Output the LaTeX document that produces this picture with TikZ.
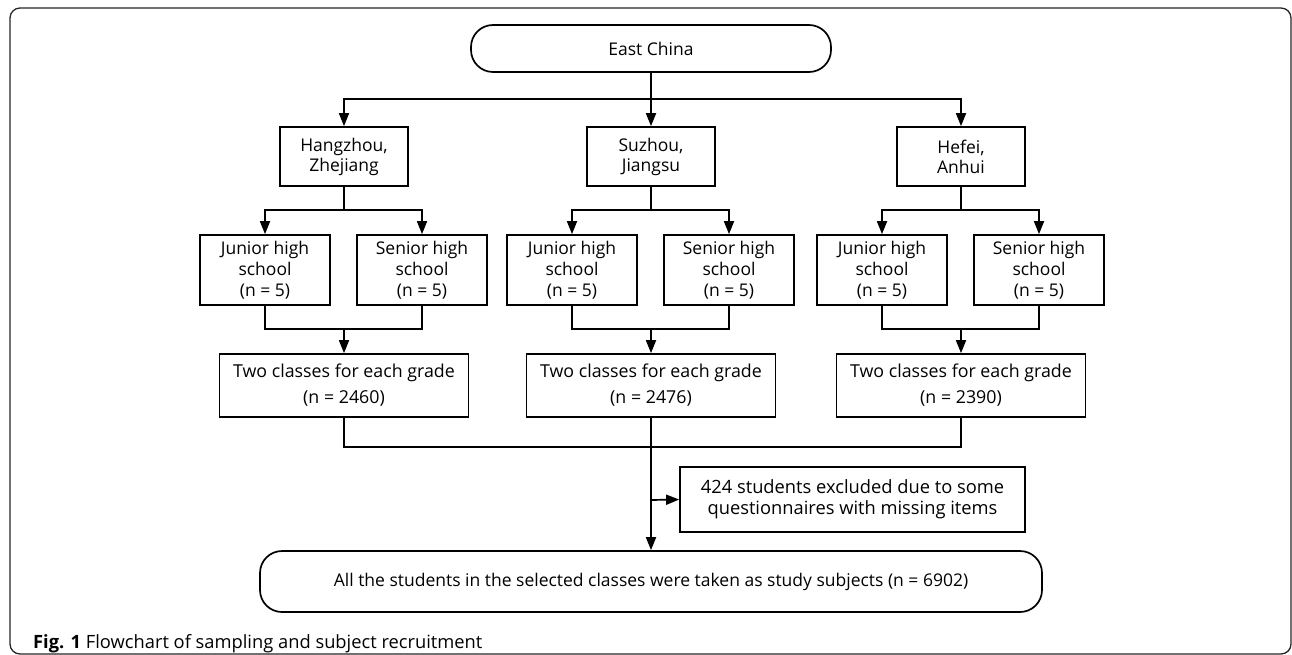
\documentclass[tikz,border=0pt]{standalone}
\usepackage{fontspec}
\setmainfont{Open Sans}
\usetikzlibrary{arrows.meta,positioning}

\begin{document}
\begin{tikzpicture}[x=1pt,y=-1pt,
  box/.style={draw, line width=1.7pt, align=center, inner sep=0pt,
    font=\fontsize{17.5}{21}\selectfont},
  citybox/.style={box, minimum width=128pt, minimum height=59pt,
    font=\fontsize{17.5}{20}\selectfont},
  schoolbox/.style={box, minimum width=130pt, minimum height=70pt},
  classbox/.style={box, minimum width=249pt, minimum height=63pt,
    font=\fontsize{17.8}{26}\selectfont},
  endbox/.style={box, rounded corners=22pt},
  arr/.style={line width=1.7pt, -{Triangle[length=13pt,width=10pt]}},
  link/.style={line width=1.7pt}
]
  % Page and frame
  \useasboundingbox (0,0) rectangle (1292,655);
  \draw[line width=1.3pt, rounded corners=10pt, black!85] (10,8) rectangle (1291,654);

  % Top
  \node[endbox, minimum width=360pt, minimum height=47pt] (east) at (651,48.5) {East China};
  \coordinate (eastfork) at (651,99);
  \draw[link] (east) -- (eastfork);

  % Three cities
  \foreach \cx/\tag/\city/\num in {344/hz/{Hangzhou,\\Zhejiang}/2460,
                                    651/sz/{Suzhou,\\Jiangsu}/2476,
                                    961/hf/{Hefei,\\Anhui}/2390} {
    \node[citybox] (city-\tag) at (\cx,156.5) {\city};
    \draw[arr] (eastfork) -| (city-\tag.north);

    \node[schoolbox] (jun-\tag) at (\cx-79,270) {Junior high\\school\\(n = 5)};
    \node[schoolbox] (sen-\tag) at (\cx+78,270) {Senior high\\school\\(n = 5)};
    \coordinate (split-\tag) at (\cx,210);
    \draw[link] (city-\tag) -- (split-\tag);
    \draw[arr] (split-\tag) -| (jun-\tag.north);
    \draw[arr] (split-\tag) -| (sen-\tag.north);

    \node[classbox] (cls-\tag) at (\cx,385.5) {Two classes for each grade\\(n = \num)};
    \coordinate (merge-\tag) at (\cx,329);
    \draw[link] (jun-\tag.south) |- (merge-\tag);
    \draw[link] (sen-\tag.south) |- (merge-\tag);
    \draw[arr] (merge-\tag) -- (cls-\tag);
  }

  % Bottom
  \coordinate (join) at (651,447);
  \draw[link] (cls-hz.south) |- (join);
  \draw[link] (cls-hf.south) |- (join);

  \node[box, minimum width=345pt, minimum height=65pt,
    font=\fontsize{18.3}{21}\selectfont] (excl) at (852.5,499.5)
    {424 students excluded due to some\\questionnaires with missing items};
  \node[endbox, minimum width=782pt, minimum height=61pt] (final) at (651,581.5)
    {All the students in the selected classes were taken as study subjects (n = 6902)};
  \coordinate (exfork) at (651,500);
  \draw[arr] (cls-sz) -- (final);
  \draw[arr] (exfork) -- (excl.west);

  % Caption
  \node[anchor=base west, inner sep=0pt, font=\fontsize{18.3}{20}\selectfont] (caption) at (33,648)
    {\textbf{Fig. 1} Flowchart of sampling and subject recruitment};
\end{tikzpicture}
\end{document}
